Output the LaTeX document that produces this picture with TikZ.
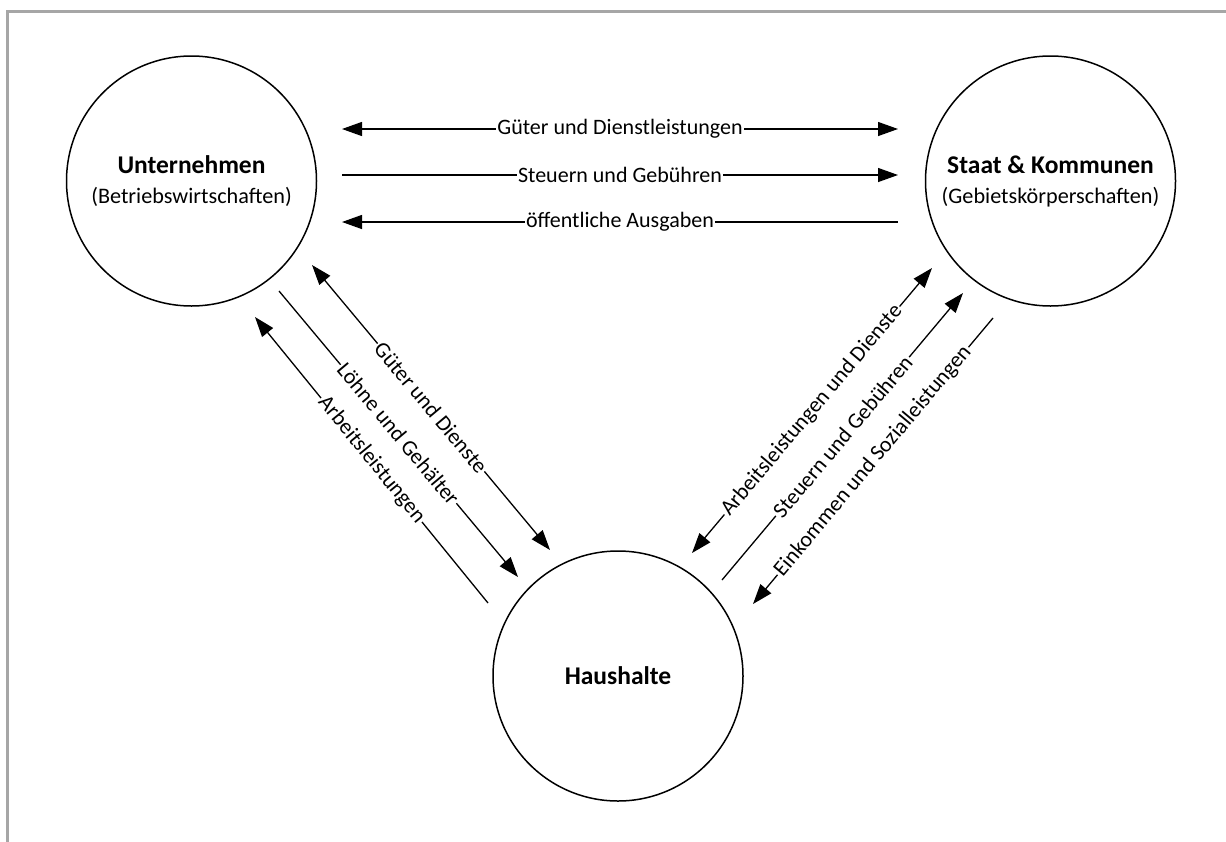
\documentclass[tikz,border=0pt]{standalone}
\usepackage{fontspec}
\setmainfont{Carlito}
\usetikzlibrary{arrows.meta}
\definecolor{framegray}{HTML}{A6A6A6}
\begin{document}
\begin{tikzpicture}[x=1pt,y=-1pt,
  >={Triangle[length=20pt,width=14pt]},
  sector/.style={circle,draw,line width=1.5pt,minimum size=250pt,inner sep=0pt,
    align=center,font=\fontsize{22.2}{30}\selectfont},
  sectortitle/.style={font=\bfseries\fontsize{25.5}{30}\selectfont},
  flow/.style={line width=1.3pt},
  flowlabel/.style={fill=white,inner sep=1.5pt,font=\fontsize{22}{24}\selectfont}
]
\useasboundingbox (0,0) rectangle (1226,841);
\clip (0,0) rectangle (1226,841);
% outer frame
\draw[framegray,line width=3pt] (7.5,900) -- (7.5,11) -- (1300,11);

% sectors
\node[sector] (U) at (191.5,181) {\textbf{\fontsize{25.5}{30}\selectfont Unternehmen}\\(Betriebswirtschaften)};
\node[sector] (S) at (1050.5,181) {\textbf{\fontsize{25.5}{30}\selectfont Staat \& Kommunen}\\(Gebietskörperschaften)};
\node[sector] (H) at (618,676) {\textbf{\fontsize{25.5}{30}\selectfont Haushalte}};

% flow end points
\coordinate (us1a) at (342,129); \coordinate (us1b) at (898,129);
\coordinate (us2a) at (342,175); \coordinate (us2b) at (898,175);
\coordinate (us3a) at (342,222); \coordinate (us3b) at (898,222);

\coordinate (uh1a) at (312,265); \coordinate (uh1b) at (550,550);
\coordinate (uh2a) at (279,291); \coordinate (uh2b) at (518,577);
\coordinate (uh3a) at (255,317); \coordinate (uh3b) at (488,603);

\coordinate (hs1a) at (692,553); \coordinate (hs1b) at (932,268);
\coordinate (hs2a) at (722,580); \coordinate (hs2b) at (963,293);
\coordinate (hs3a) at (753,604); \coordinate (hs3b) at (993,318);

% Unternehmen <-> Staat
\draw[flow,<->] (us1a) -- node[flowlabel]{Güter und Dienstleistungen} (us1b);
\draw[flow,->] (us2a) -- node[flowlabel]{Steuern und Gebühren} (us2b);
\draw[flow,<-] (us3a) -- node[flowlabel]{öffentliche Ausgaben} (us3b);

% Unternehmen <-> Haushalte
\draw[flow,<->] (uh1a) -- node[flowlabel,sloped]{Güter und Dienste} (uh1b);
\draw[flow,->] (uh2a) -- node[flowlabel,sloped]{Löhne und Gehälter} (uh2b);
\draw[flow,<-] (uh3a) -- node[flowlabel,sloped]{Arbeitsleistungen} (uh3b);

% Haushalte <-> Staat
\draw[flow,<->] (hs1a) -- node[flowlabel,sloped]{Arbeitsleistungen und Dienste} (hs1b);
\draw[flow,->] (hs2a) -- node[flowlabel,sloped]{Steuern und Gebühren} (hs2b);
\draw[flow,<-] (hs3a) -- node[flowlabel,sloped]{Einkommen und Sozialleistungen} (hs3b);
\end{tikzpicture}
\end{document}
